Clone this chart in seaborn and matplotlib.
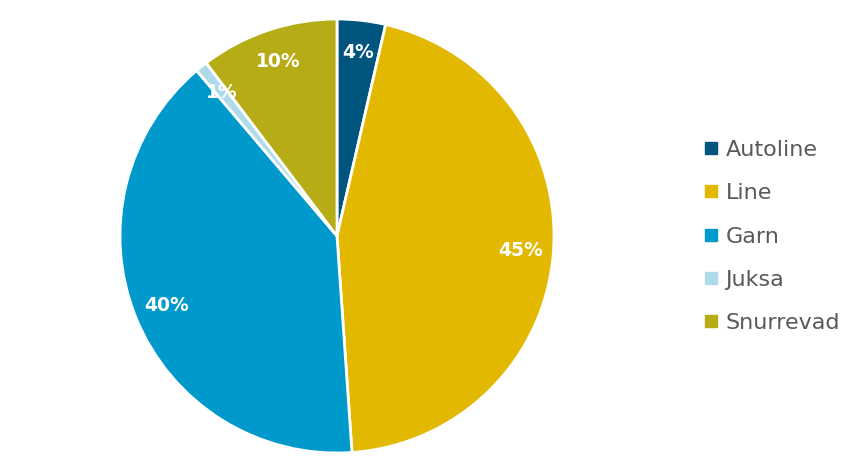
import matplotlib
matplotlib.use("Agg")
import matplotlib.pyplot as plt
from matplotlib.lines import Line2D
import seaborn as sns

# share per gear type (percent)
categories = ["Autoline", "Line", "Garn", "Juksa", "Snurrevad"]
shares = [3.6, 45.3, 39.9, 0.9, 10.3]
colors = ["#00557f", "#e2b900", "#0099cc", "#addce8", "#b5ac16"]

sns.set_theme(style="white")
plt.rcParams["font.family"] = ["DejaVu Sans"]

fig = plt.figure(figsize=(8.63, 4.73), dpi=100)
ax = fig.add_axes([120 / 863, 20 / 473, 434 / 863, 434 / 473])

wedges, texts, autotexts = ax.pie(
    shares, colors=colors, startangle=90, counterclock=False,
    autopct=lambda p: "%d%%" % round(p), pctdistance=0.85,
    wedgeprops=dict(edgecolor="white", linewidth=2),
    textprops=dict(color="white", fontsize=13.5, fontweight="bold"),
)
ax.set_xlim(-1.0, 1.0)
ax.set_ylim(-1.0, 1.0)
ax.set_aspect("equal")

handles = [Line2D([], [], marker="s", linestyle="", markersize=8,
                  markerfacecolor=c, markeredgecolor=c) for c in colors]
leg = fig.legend(handles, categories, loc="center left",
                 bbox_to_anchor=(0.788, 0.5), frameon=False,
                 fontsize=16, labelspacing=1.05, handletextpad=0.15,
                 handlelength=1.0)
for t in leg.get_texts():
    t.set_color("#595959")

fig.savefig("out.png", dpi=100)
